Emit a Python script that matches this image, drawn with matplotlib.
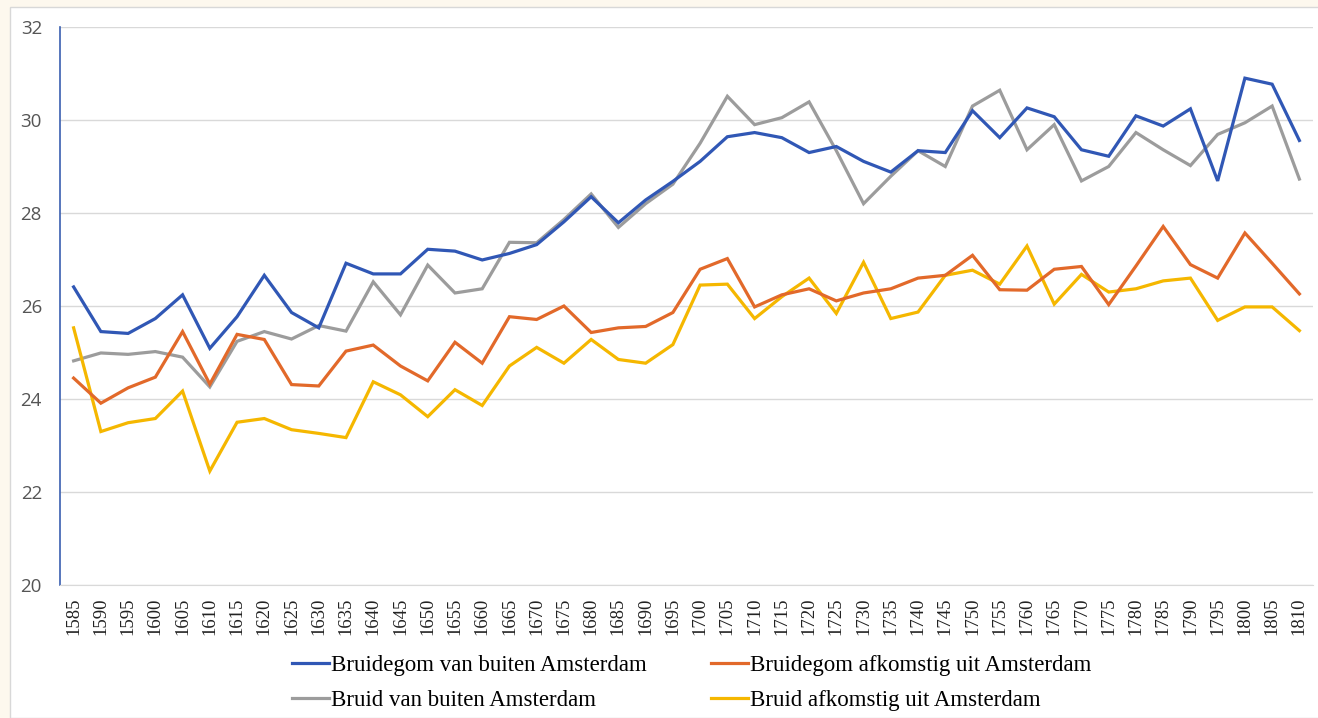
import matplotlib
matplotlib.use("Agg")
import matplotlib.pyplot as plt
from matplotlib.patches import Rectangle

years = list(range(1585, 1811, 5))

bruidegom_buiten = [26.41, 25.45, 25.41, 25.73, 26.24, 25.09, 25.77, 26.66, 25.86, 25.53,
                    26.92, 26.69, 26.69, 27.22, 27.18, 26.99, 27.13, 27.32, 27.81, 28.35,
                    27.79, 28.28, 28.68, 29.11, 29.64, 29.73, 29.62, 29.30, 29.43, 29.11,
                    28.88, 29.34, 29.30, 30.20, 29.62, 30.26, 30.07, 29.36, 29.22, 30.09,
                    29.87, 30.24, 28.69, 30.90, 30.77, 29.56]
bruidegom_amsterdam = [24.45, 23.91, 24.24, 24.47, 25.45, 24.32, 25.39, 25.28, 24.31, 24.28,
                       25.03, 25.16, 24.71, 24.39, 25.22, 24.77, 25.77, 25.71, 26.00, 25.43,
                       25.53, 25.56, 25.86, 26.79, 27.02, 25.98, 26.24, 26.37, 26.11, 26.28,
                       26.37, 26.60, 26.66, 27.09, 26.35, 26.34, 26.79, 26.85, 26.03, 26.86,
                       27.71, 26.89, 26.60, 27.57, 26.92, 26.26]
bruid_buiten = [24.82, 24.99, 24.96, 25.02, 24.90, 24.26, 25.24, 25.45, 25.29, 25.58,
                25.46, 26.52, 25.81, 26.88, 26.28, 26.37, 27.37, 27.36, 27.86, 28.41,
                27.69, 28.20, 28.62, 29.50, 30.51, 29.90, 30.05, 30.39, 29.34, 28.20,
                28.79, 29.34, 29.00, 30.30, 30.64, 29.36, 29.90, 28.69, 29.00, 29.73,
                29.36, 29.02, 29.69, 29.94, 30.30, 28.73]
bruid_amsterdam = [25.53, 23.30, 23.49, 23.58, 24.17, 22.45, 23.50, 23.58, 23.34, 23.26,
                   23.17, 24.37, 24.09, 23.62, 24.20, 23.86, 24.71, 25.11, 24.77, 25.28,
                   24.85, 24.77, 25.17, 26.45, 26.47, 25.73, 26.20, 26.60, 25.84, 26.94,
                   25.73, 25.87, 26.66, 26.77, 26.47, 27.29, 26.04, 26.68, 26.30, 26.37,
                   26.54, 26.60, 25.69, 25.98, 25.98, 25.47]

series = [
    ("Bruidegom van buiten Amsterdam", bruidegom_buiten, "#3057b5"),
    ("Bruidegom afkomstig uit Amsterdam", bruidegom_amsterdam, "#e2692a"),
    ("Bruid van buiten Amsterdam", bruid_buiten, "#9c9c9c"),
    ("Bruid afkomstig uit Amsterdam", bruid_amsterdam, "#f5b700"),
]

fig = plt.figure(figsize=(13.18, 7.18), dpi=100)
fig.patch.set_facecolor("#fdf8ee")
# white panel behind the chart
fig.add_artist(Rectangle((10 / 1318, 0), 1.0, 1 - 7 / 718, transform=fig.transFigure,
                         facecolor="white", edgecolor="#d8d8d8", linewidth=1.0, zorder=0))

ax = fig.add_axes([60 / 1318, 1 - 585 / 718, 1253 / 1318, 558 / 718])
ax.set_facecolor("white")

x = list(range(len(years)))
# gray & yellow under blue & orange like the original
for label, vals, color in [series[2], series[3], series[1], series[0]]:
    ax.plot(x, vals, color=color, linewidth=2.3, label=label, solid_joinstyle="miter")

ax.set_xlim(-0.5, len(years) - 0.5)
ax.set_ylim(20, 32)
ax.set_yticks(range(20, 33, 2))
ax.set_xticks(x)
ax.set_xticklabels([str(y) for y in years], rotation=90, family="Liberation Serif",
                   fontsize=13.5, color="#222222")
for t in ax.get_yticklabels():
    t.set_family("Open Sans")
    t.set_fontsize(13.5)
    t.set_color("#555555")

ax.grid(axis="y", color="#d9d9d9", linewidth=1.0)
ax.set_axisbelow(True)
ax.tick_params(length=0)
ax.tick_params(axis="x", pad=9)
ax.tick_params(axis="y", pad=13)
for s in ["top", "right"]:
    ax.spines[s].set_visible(False)
ax.spines["bottom"].set_color("#d9d9d9")
ax.spines["left"].set_color("#3a5fb0")
ax.spines["left"].set_linewidth(1.2)

handles = {lab: h for h, lab in zip(*ax.get_legend_handles_labels())}
# legend fills column-wise: rows are groom / bride
order = [series[0][0], series[2][0], series[1][0], series[3][0]]
leg = fig.legend([handles[o] for o in order], order, ncol=2, loc="center",
                 bbox_to_anchor=(692 / 1318, 1 - 683 / 718), frameon=False,
                 prop={"family": "Liberation Serif", "size": 16.5},
                 handlelength=1.6, handletextpad=0.1, columnspacing=2.8,
                 labelspacing=0.62)

fig.savefig("out.png", dpi=100, facecolor=fig.get_facecolor())
